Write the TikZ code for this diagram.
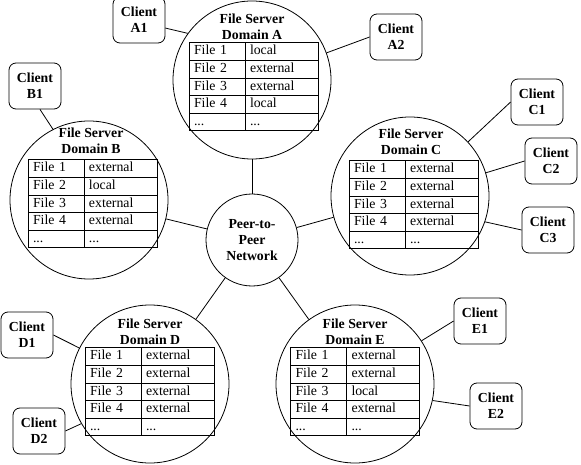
\documentclass[tikz,border=0pt]{standalone}
\usepackage{fontspec}
\setmainfont{Liberation Serif}
\usetikzlibrary{matrix}
\newcommand\mytabfont{\fontsize{13.8}{16}\selectfont}
\newcommand\myboldfont{\fontsize{13.8}{16}\selectfont\bfseries}
\tikzset{
  every path/.style={line width=0.8pt},
  server/.style={draw, circle, inner sep=0pt, minimum size=158pt},
  hubnode/.style={draw, circle, inner sep=0pt, minimum size=92pt, align=center, font=\myboldfont},
  client/.style={draw, rounded corners=7pt, minimum width=52pt, minimum height=46pt, inner sep=0pt, align=center, font=\myboldfont},
  stitle/.style={align=center, font=\myboldfont, inner sep=0pt},
  ftab/.style={matrix of nodes, anchor=north, inner sep=0pt,
    row sep=-0.8pt, column sep=-0.8pt,
    nodes={draw, rectangle, line width=0.8pt, inner xsep=5pt, inner ysep=0pt,
      minimum height=17.6pt, text height=9.5pt, text depth=3pt, align=left, font=\mytabfont},
    column 1/.style={nodes={text width=46pt}},
    column 2/.style={nodes={text width=63pt}}},
  link/.style={draw, line width=0.8pt}
}
\begin{document}
\begin{tikzpicture}[x=1pt, y=-1pt]
\useasboundingbox (0,0) rectangle (581,465);

% hub
\node[hubnode] (hub) at (252,240) {Peer-to-\\Peer\\Network};

% servers
\node[server] (A) at (252,80) {};
\node[server] (B) at (89,200) {};
\node[server] (C) at (410,196) {};
\node[server] (D) at (150,384) {};
\node[server] (E) at (355,384) {};

% titles
\node[stitle] (Atitle) at (252,27) {File Server\\Domain A};
\node[stitle] (Btitle) at (91,141) {File Server\\Domain B};
\node[stitle] (Ctitle) at (411,142) {File Server\\Domain C};
\node[stitle] (Dtitle) at (150,332) {File Server\\Domain D};
\node[stitle] (Etitle) at (355,332) {File Server\\Domain E};

% tables
\matrix[ftab] (tA) at (253.5,42) {
File 1 & local \\
File 2 & external \\
File 3 & external \\
File 4 & local \\
... & ... \\
};
\matrix[ftab] (tB) at (92.5,159) {
File 1 & external \\
File 2 & local \\
File 3 & external \\
File 4 & external \\
... & ... \\
};
\matrix[ftab] (tC) at (413.5,160) {
File 1 & external \\
File 2 & external \\
File 3 & external \\
File 4 & external \\
... & ... \\
};
\matrix[ftab] (tD) at (149.5,347) {
File 1 & external \\
File 2 & external \\
File 3 & external \\
File 4 & external \\
... & ... \\
};
\matrix[ftab] (tE) at (355,347) {
File 1 & external \\
File 2 & external \\
File 3 & local \\
File 4 & external \\
... & ... \\
};

% clients
\node[client] (A1) at (139,20) {Client\\A1};
\node[client] (A2) at (396,37) {Client\\A2};
\node[client] (B1) at (35,86) {Client\\B1};
\node[client] (C1) at (537,102) {Client\\C1};
\node[client] (C2) at (551,161) {Client\\C2};
\node[client] (C3) at (548,230) {Client\\C3};
\node[client] (D1) at (27,335) {Client\\D1};
\node[client] (D2) at (39,431) {Client\\D2};
\node[client] (E1) at (480,321) {Client\\E1};
\node[client] (E2) at (496,406) {Client\\E2};

% hub links
\draw[link] (hub) -- (A);
\draw[link] (hub) -- (B);
\draw[link] (hub) -- (C);
\draw[link] (hub) -- (D);
\draw[link] (hub) -- (E);

% client links
\draw[link] (A1.-17) -- (A.144);
\draw[link] (A2.west) -- (A.20);
\draw[link] (B1.-78) -- (B.117);
\draw[link] (C1.west) -- (C.43);
\draw[link] (C2.west) -- (C.17);
\draw[link] (C3.west) -- (C.-19);
\draw[link] (D1.east) -- (D.153);
\draw[link] (D2.east) -- (D.210);
\draw[link] (E1.west) -- (E.33);
\draw[link] (E2.west) -- (E.-12);
\end{tikzpicture}
\end{document}
